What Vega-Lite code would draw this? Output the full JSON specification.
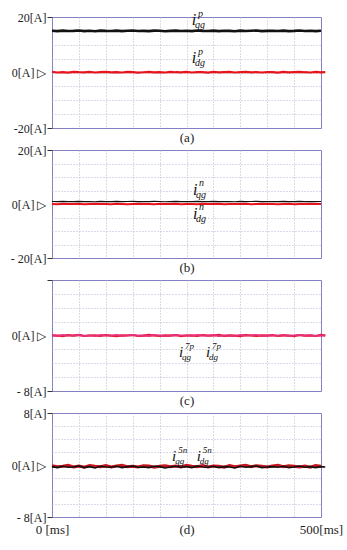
{
"$schema":"https://vega.github.io/schema/vega-lite/v6.json",
"background":"white",
"padding":{"left":8,"top":8,"right":5,"bottom":5},
"bounds":"flush",
"spacing":22,
"config":{
 "font":"'Liberation Serif', 'Times New Roman', serif",
 "view":{"stroke":"#8480c4","strokeWidth":1},
 "axis":{"domain":false,"labelFont":"'Liberation Serif', 'Times New Roman', serif","labelFontSize":12,"labelColor":"#222222","gridDash":[1,2],"gridWidth":1,"labelOverlap":false,"labelFlush":false},
 "text":{"font":"'Liberation Serif', 'Times New Roman', serif"}
},
"datasets":{
 "sig":[
{"t":0,"aq":15.05,"ad":0.25,"bq":0.93,"bd":0.03,"cq":0.03,"cd":0.03,"dq":-0.25,"dd":-0.1},
{"t":10,"aq":14.9,"ad":0,"bq":0.85,"bd":-0.1,"cq":-0.07,"cd":0,"dq":-0.4,"dd":-0.25},
{"t":20,"aq":15.1,"ad":0.15,"bq":0.95,"bd":0.07,"cq":0.07,"cd":-0.1,"dq":-0.2,"dd":-0.2},
{"t":30,"aq":14.95,"ad":-0.05,"bq":0.88,"bd":0,"cq":-0.03,"cd":0.07,"dq":-0.35,"dd":-0.05},
{"t":40,"aq":15.0,"ad":0.2,"bq":0.9,"bd":-0.03,"cq":0,"cd":-0.03,"dq":-0.3,"dd":-0.3},
{"t":50,"aq":15.15,"ad":0.1,"bq":0.98,"bd":0.07,"cq":0.1,"cd":0.1,"dq":-0.15,"dd":-0.15},
{"t":60,"aq":14.9,"ad":0.05,"bq":0.85,"bd":-0.07,"cq":-0.07,"cd":-0.07,"dq":-0.4,"dd":-0.35},
{"t":70,"aq":15.05,"ad":0.2,"bq":0.93,"bd":0.03,"cq":0.03,"cd":0,"dq":-0.25,"dd":-0.1},
{"t":80,"aq":14.85,"ad":0,"bq":0.83,"bd":0.1,"cq":-0.1,"cd":0.03,"dq":-0.45,"dd":-0.2},
{"t":90,"aq":15.1,"ad":0.15,"bq":0.95,"bd":-0.03,"cq":0.07,"cd":-0.07,"dq":-0.2,"dd":-0.25},
{"t":100,"aq":15.0,"ad":0.25,"bq":0.9,"bd":0,"cq":0,"cd":0.07,"dq":-0.3,"dd":-0.1},
{"t":110,"aq":14.95,"ad":0.05,"bq":0.88,"bd":-0.07,"cq":-0.03,"cd":-0.03,"dq":-0.35,"dd":-0.3},
{"t":120,"aq":15.1,"ad":0.1,"bq":0.95,"bd":0.07,"cq":0.07,"cd":-0.1,"dq":-0.2,"dd":-0.15},
{"t":130,"aq":14.9,"ad":0,"bq":0.85,"bd":0.03,"cq":-0.07,"cd":0.03,"dq":-0.4,"dd":-0.05},
{"t":140,"aq":15.05,"ad":0.2,"bq":0.93,"bd":-0.1,"cq":0.03,"cd":0,"dq":-0.25,"dd":-0.25},
{"t":150,"aq":15.15,"ad":0.15,"bq":0.98,"bd":0,"cq":0.1,"cd":0.07,"dq":-0.15,"dd":-0.2},
{"t":160,"aq":14.95,"ad":-0.05,"bq":0.88,"bd":0.07,"cq":-0.03,"cd":-0.07,"dq":-0.35,"dd":-0.3},
{"t":170,"aq":15.0,"ad":0.1,"bq":0.9,"bd":-0.03,"cq":0,"cd":-0.03,"dq":-0.3,"dd":-0.1},
{"t":180,"aq":14.9,"ad":0.2,"bq":0.85,"bd":0.03,"cq":-0.07,"cd":0.1,"dq":-0.4,"dd":-0.15},
{"t":190,"aq":15.1,"ad":0.05,"bq":0.95,"bd":-0.07,"cq":0.07,"cd":0,"dq":-0.2,"dd":-0.35},
{"t":200,"aq":15.05,"ad":0.15,"bq":0.93,"bd":0.1,"cq":0.03,"cd":-0.07,"dq":-0.25,"dd":-0.2},
{"t":210,"aq":14.85,"ad":0,"bq":0.83,"bd":0,"cq":-0.1,"cd":0.03,"dq":-0.45,"dd":-0.1},
{"t":220,"aq":15.0,"ad":0.25,"bq":0.9,"bd":-0.03,"cq":0,"cd":-0.03,"dq":-0.3,"dd":-0.25},
{"t":230,"aq":15.1,"ad":0.1,"bq":0.95,"bd":0.07,"cq":0.07,"cd":0.07,"dq":-0.2,"dd":-0.15},
{"t":240,"aq":14.95,"ad":0.05,"bq":0.88,"bd":-0.07,"cq":-0.03,"cd":-0.1,"dq":-0.35,"dd":-0.3},
{"t":250,"aq":15.05,"ad":0.2,"bq":0.93,"bd":0.03,"cq":0.03,"cd":0,"dq":-0.25,"dd":-0.05},
{"t":260,"aq":14.9,"ad":0,"bq":0.85,"bd":0,"cq":-0.07,"cd":0.03,"dq":-0.4,"dd":-0.2},
{"t":270,"aq":15.15,"ad":0.15,"bq":0.98,"bd":-0.1,"cq":0.1,"cd":-0.07,"dq":-0.15,"dd":-0.25},
{"t":280,"aq":15.0,"ad":0.1,"bq":0.9,"bd":0.07,"cq":0,"cd":0.07,"dq":-0.3,"dd":-0.1},
{"t":290,"aq":14.95,"ad":-0.05,"bq":0.88,"bd":-0.03,"cq":-0.03,"cd":-0.03,"dq":-0.35,"dd":-0.3},
{"t":300,"aq":15.1,"ad":0.2,"bq":0.95,"bd":0.03,"cq":0.07,"cd":0,"dq":-0.2,"dd":-0.15},
{"t":310,"aq":14.9,"ad":0.05,"bq":0.85,"bd":0.1,"cq":-0.07,"cd":0.1,"dq":-0.4,"dd":-0.2},
{"t":320,"aq":15.05,"ad":0.15,"bq":0.93,"bd":-0.07,"cq":0.03,"cd":-0.07,"dq":-0.25,"dd":-0.35},
{"t":330,"aq":15.0,"ad":0.25,"bq":0.9,"bd":0,"cq":0,"cd":0.03,"dq":-0.3,"dd":-0.1},
{"t":340,"aq":14.85,"ad":0,"bq":0.83,"bd":0.03,"cq":-0.1,"cd":-0.03,"dq":-0.45,"dd":-0.25},
{"t":350,"aq":15.1,"ad":0.1,"bq":0.95,"bd":-0.03,"cq":0.07,"cd":-0.1,"dq":-0.2,"dd":-0.15},
{"t":360,"aq":14.95,"ad":0.2,"bq":0.88,"bd":0.07,"cq":-0.03,"cd":0.07,"dq":-0.35,"dd":-0.05},
{"t":370,"aq":15.05,"ad":0.05,"bq":0.93,"bd":-0.07,"cq":0.03,"cd":0,"dq":-0.25,"dd":-0.25},
{"t":380,"aq":15.15,"ad":0.15,"bq":0.98,"bd":0,"cq":0.1,"cd":-0.07,"dq":-0.15,"dd":-0.1},
{"t":390,"aq":14.9,"ad":0,"bq":0.85,"bd":0.1,"cq":-0.07,"cd":0.03,"dq":-0.4,"dd":-0.2},
{"t":400,"aq":15.0,"ad":0.15,"bq":0.9,"bd":-0.03,"cq":0,"cd":-0.03,"dq":-0.3,"dd":-0.3},
{"t":410,"aq":15.05,"ad":0.1,"bq":0.93,"bd":0.03,"cq":0.03,"cd":0.07,"dq":-0.25,"dd":-0.15},
{"t":420,"aq":14.95,"ad":-0.05,"bq":0.88,"bd":-0.07,"cq":-0.03,"cd":-0.07,"dq":-0.35,"dd":-0.05},
{"t":430,"aq":15.1,"ad":0.2,"bq":0.95,"bd":0,"cq":0.07,"cd":0.03,"dq":-0.2,"dd":-0.25},
{"t":440,"aq":14.9,"ad":0.05,"bq":0.85,"bd":0.07,"cq":-0.07,"cd":0,"dq":-0.4,"dd":-0.1},
{"t":450,"aq":15.0,"ad":0.15,"bq":0.9,"bd":-0.1,"cq":0,"cd":-0.1,"dq":-0.3,"dd":-0.2},
{"t":460,"aq":15.15,"ad":0.25,"bq":0.98,"bd":0.03,"cq":0.1,"cd":0.07,"dq":-0.15,"dd":-0.3},
{"t":470,"aq":14.95,"ad":0.1,"bq":0.88,"bd":-0.03,"cq":-0.03,"cd":-0.03,"dq":-0.35,"dd":-0.15},
{"t":480,"aq":15.05,"ad":0,"bq":0.93,"bd":0.07,"cq":0.03,"cd":0.03,"dq":-0.25,"dd":-0.35},
{"t":490,"aq":14.9,"ad":0.2,"bq":0.85,"bd":0,"cq":-0.07,"cd":-0.07,"dq":-0.4,"dd":-0.1},
{"t":500,"aq":15.05,"ad":0.05,"bq":0.93,"bd":0.03,"cq":0.03,"cd":0.1,"dq":-0.25,"dd":-0.2},
{"t":508,"aq":null,"ad":0.1,"bq":null,"bd":null,"cq":0,"cd":0,"dq":-0.3,"dd":null}
 ],
 "lab":[
{"panel":"a","t":264,"v":18.9,"sym":"i","sup":"p","sub":"qg"},
{"panel":"a","t":264,"v":5.2,"sym":"i","sup":"p","sub":"dg"},
{"panel":"b","t":266,"v":5.2,"sym":"i","sup":"n","sub":"qg"},
{"panel":"b","t":266,"v":-3.7,"sym":"i","sup":"n","sub":"dg"},
{"panel":"c","t":240,"v":-2.4,"sym":"i","sup":"7p","sub":"qg"},
{"panel":"c","t":290,"v":-2.4,"sym":"i","sup":"7p","sub":"dg"},
{"panel":"d","t":227,"v":1.4,"sym":"i","sup":"5n","sub":"qg"},
{"panel":"d","t":273,"v":1.4,"sym":"i","sup":"5n","sub":"dg"}
 ]
},
"vconcat":[
{
 "width":269,"height":111,
 "encoding":{
  "x":{"field":"t","type":"quantitative","scale":{"domain":[0,500],"nice":false,"zero":false},
   "axis":{"values":[0,50,100,150,200,250,300,350,400,450,500],"title":null,"ticks":false,"labelExpr":"datum.value==250?'(a)':''","labelFontSize":13,"labelPadding":3,"gridColor":{"condition":{"test":"datum.value==0||datum.value==500","value":"transparent"},"value":"#b4b4d2"}}},
  "y":{"field":"v","type":"quantitative","title":null,"scale":{"domain":[-20,20],"nice":false},
   "axis":{"grid":true,"values":[-20,-15,-10,-5,0,5,10,15,20],"title":null,"labelExpr":"datum.value==20?'20[A]':datum.value==0?'0[A] ▷':datum.value==-20?'-20[A]':''","tickSize":5,"labelPadding":1,"tickColor":{"condition":{"test":"abs(datum.value)==20","value":"#333333"},"value":"transparent"},"gridColor":{"condition":{"test":"abs(datum.value)==20","value":"transparent"},"value":"#b4b4d2"},"minExtent":43,"maxExtent":43}}},
 "layer":[
  {"data":{"name":"sig"},"transform":[{"fold":["aq"],"as":["k","v"]}],"mark":{"type":"line","color":"#111111","strokeWidth":2.6}},
  {"data":{"name":"sig"},"transform":[{"fold":["ad"],"as":["k","v"]}],"mark":{"type":"line","color":"#e8141c","strokeWidth":2.2}},
  {"data":{"name":"lab"},"transform":[{"filter":"datum.panel=='a'"}],"mark":{"type":"text","fontStyle":"italic","fontSize":16,"align":"center","baseline":"middle","color":"#111111"},"encoding":{"text":{"field":"sym"}}},
  {"data":{"name":"lab"},"transform":[{"filter":"datum.panel=='a'"}],"mark":{"type":"text","fontStyle":"italic","fontSize":10,"align":"left","baseline":"middle","dx":4,"dy":-6.5,"color":"#111111"},"encoding":{"text":{"field":"sup"}}},
  {"data":{"name":"lab"},"transform":[{"filter":"datum.panel=='a'"}],"mark":{"type":"text","fontStyle":"italic","fontSize":10,"align":"left","baseline":"middle","dx":1,"dy":5,"color":"#111111"},"encoding":{"text":{"field":"sub"}}}
 ]
},
{
 "width":269,"height":108,
 "encoding":{
  "x":{"field":"t","type":"quantitative","scale":{"domain":[0,500],"nice":false,"zero":false},
   "axis":{"values":[0,50,100,150,200,250,300,350,400,450,500],"title":null,"ticks":false,"labelExpr":"datum.value==250?'(b)':''","labelFontSize":13,"labelPadding":3,"gridColor":{"condition":{"test":"datum.value==0||datum.value==500","value":"transparent"},"value":"#b4b4d2"}}},
  "y":{"field":"v","type":"quantitative","title":null,"scale":{"domain":[-20,20],"nice":false},
   "axis":{"grid":true,"values":[-20,-15,-10,-5,0,5,10,15,20],"title":null,"labelExpr":"datum.value==20?'20[A]':datum.value==0?'0[A] ▷':datum.value==-20?'- 20[A]':''","tickSize":5,"labelPadding":1,"tickColor":{"condition":{"test":"abs(datum.value)==20","value":"#333333"},"value":"transparent"},"gridColor":{"condition":{"test":"abs(datum.value)==20","value":"transparent"},"value":"#b4b4d2"},"minExtent":43,"maxExtent":43}}},
 "layer":[
  {"data":{"name":"sig"},"transform":[{"fold":["bd"],"as":["k","v"]}],"mark":{"type":"line","color":"#e8141c","strokeWidth":2}},
  {"data":{"name":"sig"},"transform":[{"fold":["bq"],"as":["k","v"]}],"mark":{"type":"line","color":"#111111","strokeWidth":1.2}},
  {"data":{"name":"lab"},"transform":[{"filter":"datum.panel=='b'"}],"mark":{"type":"text","fontStyle":"italic","fontSize":16,"align":"center","baseline":"middle","color":"#111111"},"encoding":{"text":{"field":"sym"}}},
  {"data":{"name":"lab"},"transform":[{"filter":"datum.panel=='b'"}],"mark":{"type":"text","fontStyle":"italic","fontSize":10,"align":"left","baseline":"middle","dx":4,"dy":-6.5,"color":"#111111"},"encoding":{"text":{"field":"sup"}}},
  {"data":{"name":"lab"},"transform":[{"filter":"datum.panel=='b'"}],"mark":{"type":"text","fontStyle":"italic","fontSize":10,"align":"left","baseline":"middle","dx":1,"dy":5,"color":"#111111"},"encoding":{"text":{"field":"sub"}}}
 ]
},
{
 "width":269,"height":111,
 "encoding":{
  "x":{"field":"t","type":"quantitative","scale":{"domain":[0,500],"nice":false,"zero":false},
   "axis":{"values":[0,50,100,150,200,250,300,350,400,450,500],"title":null,"ticks":false,"labelExpr":"datum.value==250?'(c)':''","labelFontSize":13,"labelPadding":3,"gridColor":{"condition":{"test":"datum.value==0||datum.value==500","value":"transparent"},"value":"#b4b4d2"}}},
  "y":{"field":"v","type":"quantitative","title":null,"scale":{"domain":[-8,8],"nice":false},
   "axis":{"grid":true,"values":[-8,-6,-4,-2,0,2,4,6,8],"title":null,"labelExpr":"datum.value==0?'0[A] ▷':datum.value==-8?'- 8[A]':''","tickSize":5,"labelPadding":1,"tickColor":{"condition":{"test":"abs(datum.value)==8","value":"#333333"},"value":"transparent"},"gridColor":{"condition":{"test":"abs(datum.value)==8","value":"transparent"},"value":"#b4b4d2"},"minExtent":43,"maxExtent":43}}},
 "layer":[
  {"data":{"name":"sig"},"transform":[{"fold":["cd"],"as":["k","v"]}],"mark":{"type":"line","color":"#e8141c","strokeWidth":2.2}},
  {"data":{"name":"sig"},"transform":[{"fold":["cq"],"as":["k","v"]}],"mark":{"type":"line","color":"#e8307a","strokeWidth":1.8}},
  {"data":{"name":"lab"},"transform":[{"filter":"datum.panel=='c'"}],"mark":{"type":"text","fontStyle":"italic","fontSize":15,"align":"center","baseline":"middle","color":"#111111"},"encoding":{"text":{"field":"sym"}}},
  {"data":{"name":"lab"},"transform":[{"filter":"datum.panel=='c'"}],"mark":{"type":"text","fontStyle":"italic","fontSize":9,"align":"left","baseline":"middle","dx":4,"dy":-6,"color":"#111111"},"encoding":{"text":{"field":"sup"}}},
  {"data":{"name":"lab"},"transform":[{"filter":"datum.panel=='c'"}],"mark":{"type":"text","fontStyle":"italic","fontSize":9,"align":"left","baseline":"middle","dx":1,"dy":5,"color":"#111111"},"encoding":{"text":{"field":"sub"}}}
 ]
},
{
 "width":269,"height":104,
 "encoding":{
  "x":{"field":"t","type":"quantitative","scale":{"domain":[0,500],"nice":false,"zero":false},
   "axis":{"values":[0,50,100,150,200,250,300,350,400,450,500],"title":null,"ticks":false,"labelExpr":"datum.value==0?'0 [ms]':datum.value==250?'(d)':datum.value==500?'500[ms]':''","labelFontSize":13,"labelPadding":6,"gridColor":{"condition":{"test":"datum.value==0||datum.value==500","value":"transparent"},"value":"#b4b4d2"}}},
  "y":{"field":"v","type":"quantitative","title":null,"scale":{"domain":[-8,8],"nice":false},
   "axis":{"grid":true,"values":[-8,-6,-4,-2,0,2,4,6,8],"title":null,"labelExpr":"datum.value==8?'8[A]':datum.value==0?'0[A] ▷':datum.value==-8?'- 8[A]':''","tickSize":5,"labelPadding":1,"tickColor":{"condition":{"test":"abs(datum.value)==8","value":"#333333"},"value":"transparent"},"gridColor":{"condition":{"test":"abs(datum.value)==8","value":"transparent"},"value":"#b4b4d2"},"minExtent":43,"maxExtent":43}}},
 "layer":[
  {"data":{"name":"sig"},"transform":[{"fold":["dd"],"as":["k","v"]}],"mark":{"type":"line","color":"#c8141c","strokeWidth":3}},
  {"data":{"name":"sig"},"transform":[{"fold":["dq"],"as":["k","v"]}],"mark":{"type":"line","color":"#111111","strokeWidth":1.6}},
  {"data":{"name":"lab"},"transform":[{"filter":"datum.panel=='d'"}],"mark":{"type":"text","fontStyle":"italic","fontSize":15,"align":"center","baseline":"middle","color":"#111111"},"encoding":{"text":{"field":"sym"}}},
  {"data":{"name":"lab"},"transform":[{"filter":"datum.panel=='d'"}],"mark":{"type":"text","fontStyle":"italic","fontSize":9,"align":"left","baseline":"middle","dx":4,"dy":-6,"color":"#111111"},"encoding":{"text":{"field":"sup"}}},
  {"data":{"name":"lab"},"transform":[{"filter":"datum.panel=='d'"}],"mark":{"type":"text","fontStyle":"italic","fontSize":9,"align":"left","baseline":"middle","dx":1,"dy":5,"color":"#111111"},"encoding":{"text":{"field":"sub"}}}
 ]
}
]
}
